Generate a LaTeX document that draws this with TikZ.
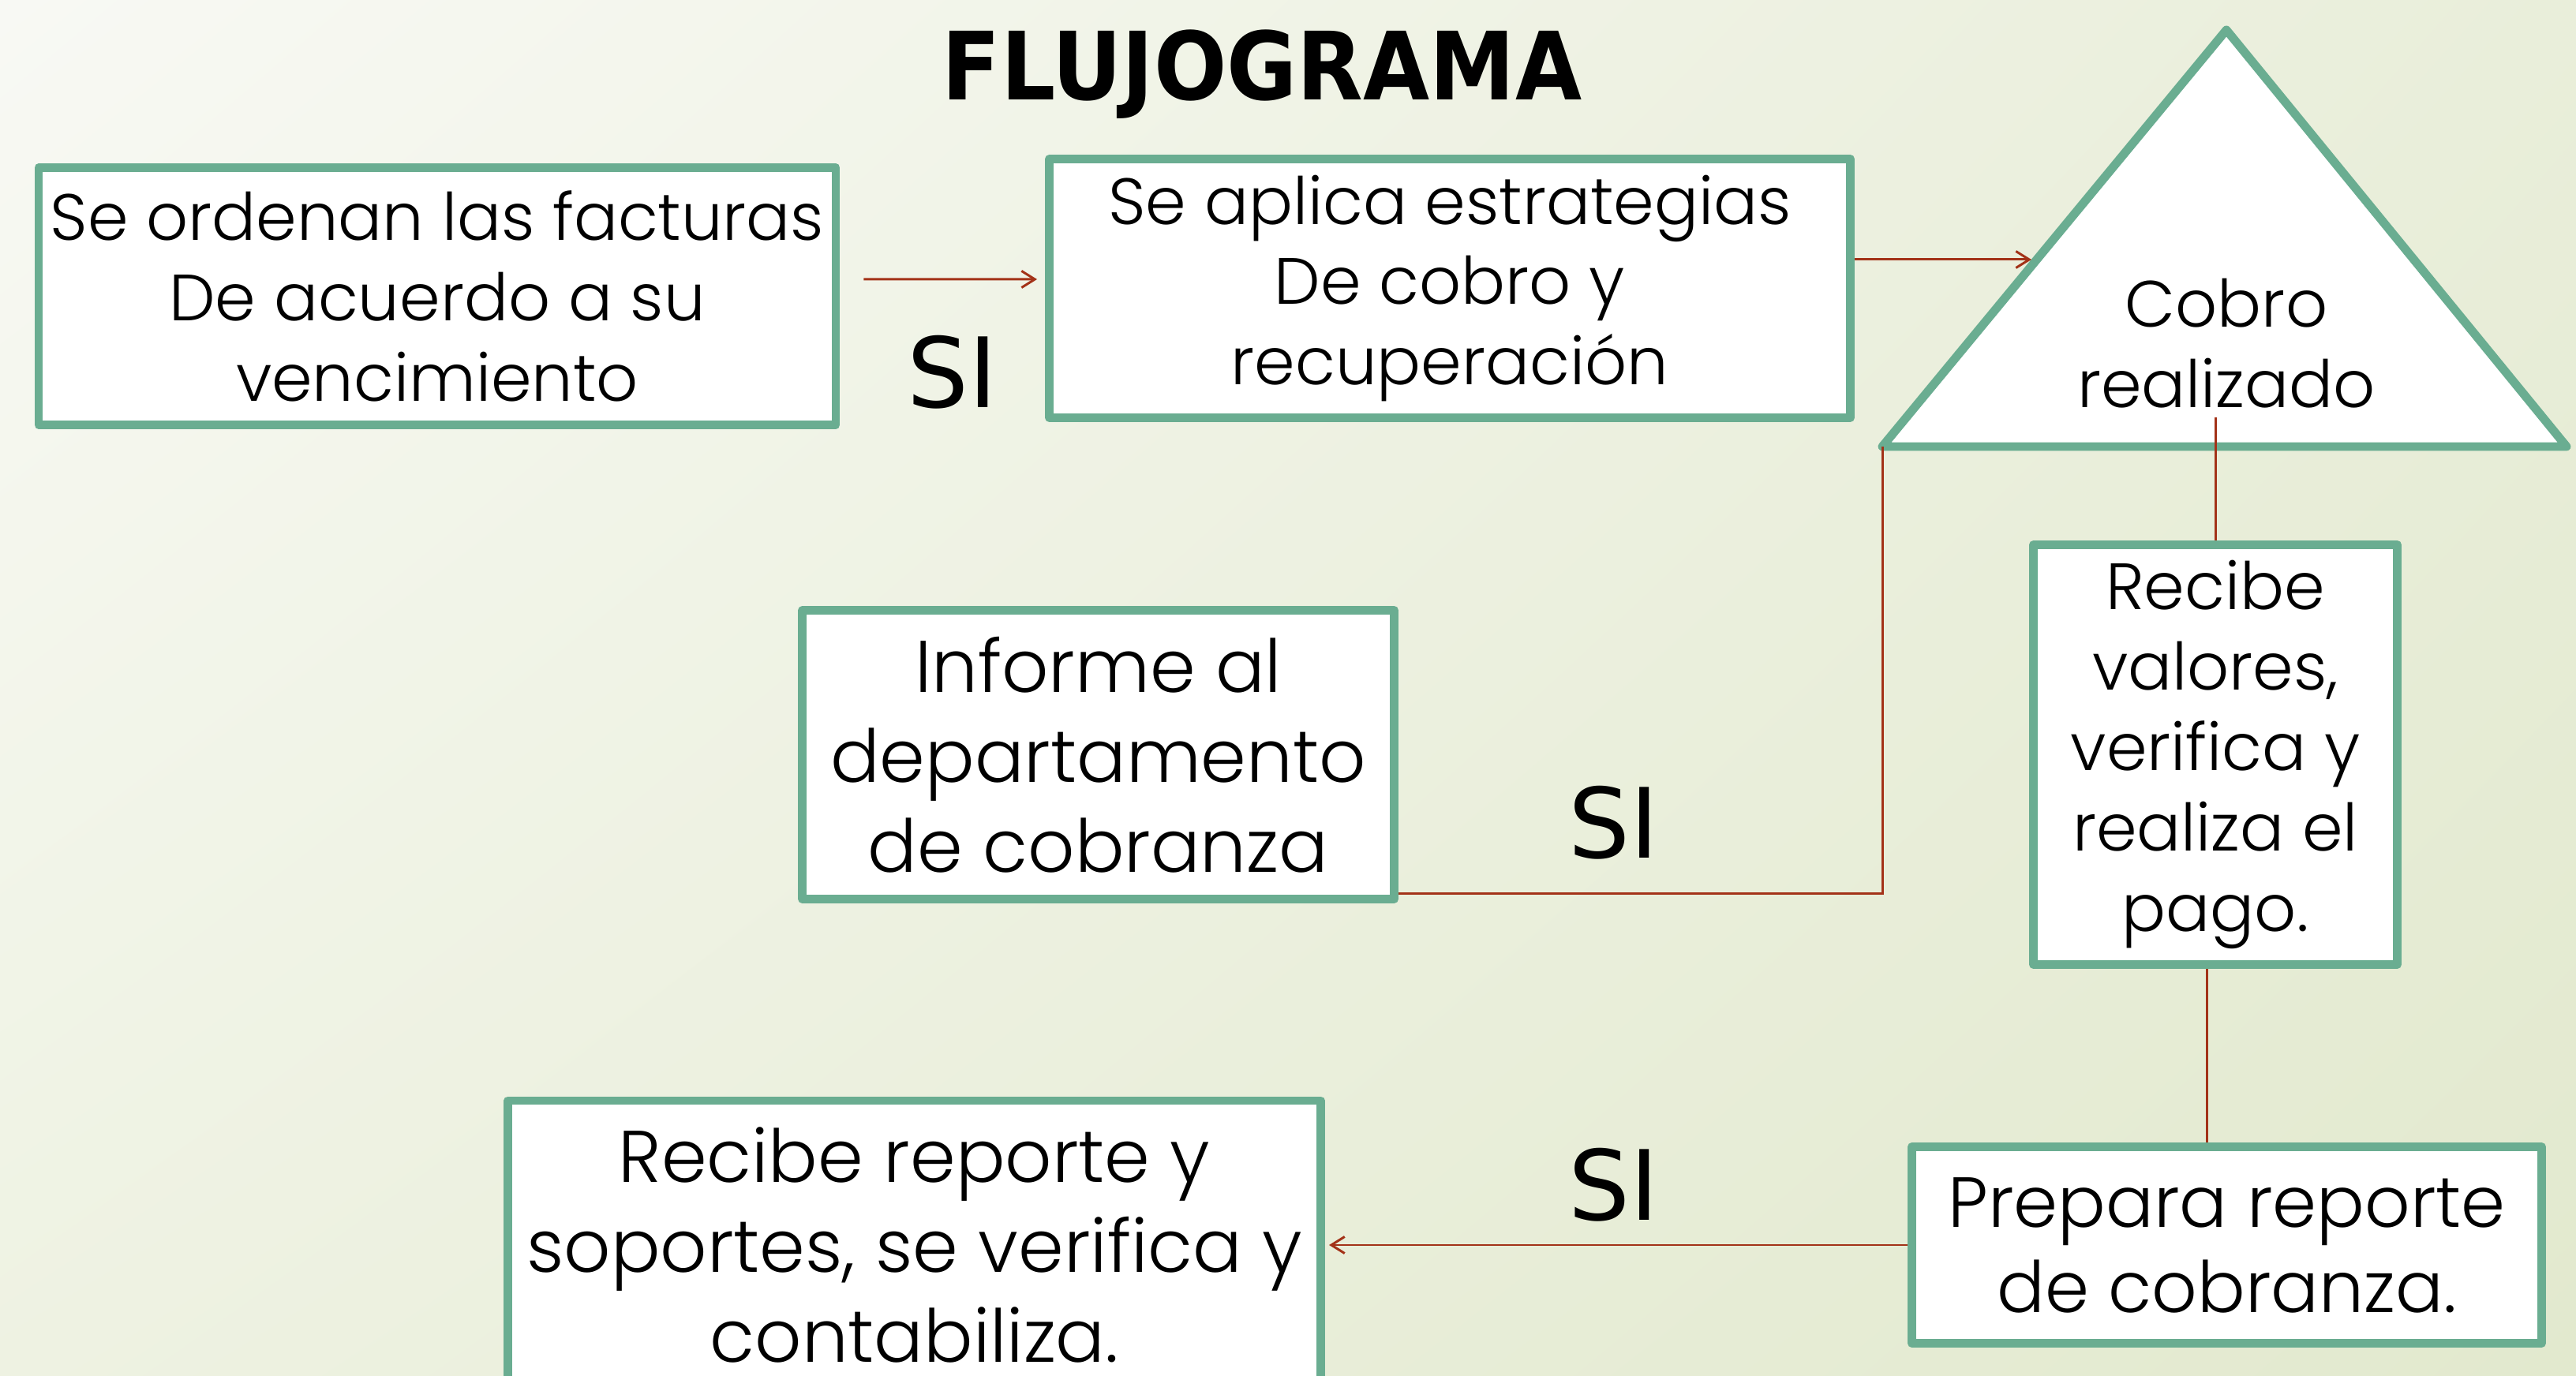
\documentclass[tikz,border=0pt]{standalone}
\usepackage{fontspec}
\setmainfont{Poppins}[UprightFont=* Light]
\newfontfamily\titlefont[FakeStretch=0.91]{DejaVu Sans}
\newfontfamily\sifont{DejaVu Sans}
\usepackage{tikz}
\usetikzlibrary{positioning}
\usetikzlibrary{arrows.meta}
\usetikzlibrary{shadings}
\definecolor{boxgreen}{HTML}{6AAD91}
\definecolor{linkred}{HTML}{A33218}
\definecolor{bgul}{HTML}{F8F9F4}
\definecolor{bgur}{HTML}{E9EEDA}
\definecolor{bgll}{HTML}{EEF2E2}
\definecolor{bglr}{HTML}{E2E9CE}
\tikzset{basic/.style={draw=boxgreen,line width=3.1pt,fill=white,align=center,line join=round}}
\tikzset{process/.style={basic,rectangle,inner sep=0pt}}
\tikzset{smalltext/.style={font=\fontsize{23.6}{29}\selectfont}}
\tikzset{bigtext/.style={font=\fontsize{26.4}{32.5}\selectfont}}
\tikzset{answer/.style={font=\sifont\fontsize{35}{40}\selectfont}}
\tikzset{link/.style={draw=linkred,line width=0.85pt}}

\begin{document}
\begin{tikzpicture}[>={Straight Barb[length=4.8pt,width=6pt]}]
        \useasboundingbox (0,0) rectangle (32.64,17.43);
        \clip (0,0) rectangle (32.64,17.43);
        \shade[upper left=bgul,upper right=bgur,lower left=bgll,lower right=bglr] (0,0) rectangle (32.64,17.43);
        \node[font=\titlefont\bfseries\fontsize{34}{40}\selectfont] (title) at (15.99,16.49) {FLUJOGRAMA};
        \node[process,smalltext,minimum width=10.1cm,minimum height=3.26cm] (ordenan) at (5.54,13.675)
            {Se ordenan las facturas\\De acuerdo a su\\vencimiento};
        \node[process,smalltext,minimum width=10.15cm,minimum height=3.28cm] (estrategias) at (18.37,13.775)
            {Se aplica estrategias\\De cobro y\\recuperación};
        % triangulo de decision
        \coordinate (tritop) at (28.21,17.05);
        \coordinate (trileft) at (23.85,11.77);
        \coordinate (triright) at (32.52,11.77);
        \coordinate (trihit) at (25.74,14.14);
        \draw[basic] (trileft) -- (tritop) -- (triright) -- cycle;
        \node[smalltext,align=center] (cobro) at (28.21,13.08) {Cobro\\realizado};
        \node[process,smalltext,minimum width=4.61cm,minimum height=5.32cm] (valores) at (28.07,7.865)
            {Recibe\\valores,\\verifica y\\realiza el\\pago.};
        \node[process,bigtext,minimum width=7.5cm,minimum height=3.66cm,left=7.99cm of valores] (informe)
            {Informe al\\departamento\\de cobranza};
        \node[process,font=\fontsize{25.6}{30.7}\selectfont,minimum width=7.98cm,minimum height=2.49cm] (prepara) at (28.215,1.65)
            {Prepara reporte\\de cobranza.};
        \node[process,bigtext,minimum width=10.3cm,minimum height=3.66cm,left=7.38cm of prepara] (reporte)
            {Recibe reporte y\\soportes, se verifica y\\contabiliza.};
        \node[answer] (si1) at (12.07,12.71) {SI};
        \node[answer] (si2) at (20.45,7.0) {SI};
        \node[answer] (si3) at (20.45,2.41) {SI};
            \path[link,->,shorten >=0.1cm] ([xshift=0.3cm,yshift=0.215cm]ordenan.east) -- ([yshift=0.115cm]estrategias.west);
            \path[link,->] (estrategias.east |- trihit) -- (trihit);
            \path[link] ([yshift=0.12cm]informe.south east) -| (trileft);
            \path[link] (valores.north |- cobro.south) -- (valores.north);
            \path[link] ([xshift=-0.11cm]valores.south) -- ([xshift=-0.11cm]valores.south |- prepara.north);
            \path[link,->,shorten >=0.05cm] (prepara.west) -- (reporte.east);
    \end{tikzpicture}
\end{document}
